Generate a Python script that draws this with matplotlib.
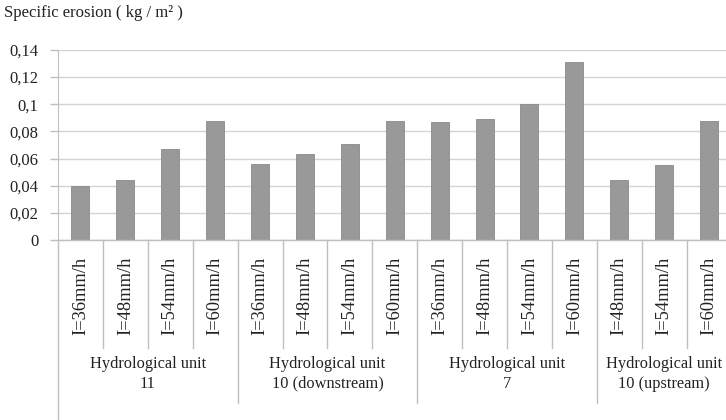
import numpy as np
import matplotlib.pyplot as plt

plt.rcParams['font.family'] = ['Liberation Serif', 'DejaVu Serif']

labels = ["I=36mm/h", "I=48mm/h", "I=54mm/h", "I=60mm/h",
          "I=36mm/h", "I=48mm/h", "I=54mm/h", "I=60mm/h",
          "I=36mm/h", "I=48mm/h", "I=54mm/h", "I=60mm/h",
          "I=48mm/h", "I=54mm/h", "I=60mm/h"]
values = [0.040, 0.044, 0.067, 0.088,
          0.056, 0.063, 0.071, 0.088,
          0.087, 0.089, 0.100, 0.131,
          0.044, 0.055, 0.088]
groups = ["Hydrological unit\n11", "Hydrological unit\n10 (downstream)",
          "Hydrological unit\n7", "Hydrological unit\n10 (upstream)"]
group_sizes = [4, 4, 4, 3]
yticks = [0, 0.02, 0.04, 0.06, 0.08, 0.1, 0.12, 0.14]
ytick_labels = ["0", "0,02", "0,04", "0,06", "0,08", "0,1", "0,12", "0,14"]

fig = plt.figure(figsize=(7.26, 4.2), dpi=100)
ax = fig.add_axes([0.0799, 0.4286, 0.9277, 0.4524])

x = np.arange(len(values))
ax.bar(x, values, width=0.4, color='#999999', edgecolor='#8a8a8a', linewidth=0.6, zorder=3)

ax.set_xlim(-0.5, len(values) - 0.5)
ax.set_ylim(0, 0.14)
ax.set_yticks(yticks)
ax.set_yticklabels(ytick_labels, fontsize=12, color='#222222')
ax.yaxis.grid(True, color='#d4d4d4', linewidth=1.0, zorder=0)
ax.set_axisbelow(True)
ax.tick_params(axis='y', length=6, color='#bfbfbf', width=1, pad=8)
ax.set_xticks([])

for s in ['top', 'right', 'bottom']:
    ax.spines[s].set_visible(False)
ax.spines['left'].set_color('#bfbfbf')

tr = ax.get_xaxis_transform()
# axis baseline
ax.plot([-0.5, len(values) - 0.5], [0, 0], color='#bfbfbf', lw=1, transform=tr, clip_on=False, zorder=4)
# y axis extended to bottom
ax.plot([-0.5, -0.5], [0, -0.95], color='#bfbfbf', lw=1, transform=tr, clip_on=False)

# category labels and separators
for i, lab in enumerate(labels):
    ax.text(i, -0.09, lab, rotation=90, ha='center', va='top', fontsize=13.3,
            color='#222222', transform=tr)

bounds = np.cumsum(group_sizes)
for b in range(1, len(values)):
    bottom = -0.858 if b in bounds else -0.568
    ax.plot([b - 0.5, b - 0.5], [0, bottom], color='#bfbfbf', lw=1, transform=tr, clip_on=False)

start = 0
for g, n in zip(groups, group_sizes):
    ax.text(start + (n - 1) / 2, -0.705, g, ha='center', va='center', fontsize=11.8,
            color='#222222', transform=tr, linespacing=1.3)
    start += n

fig.text(4 / 726, 1 - 13 / 420, "Specific erosion ( kg / m² )", fontsize=12,
         color='#222222', ha='left', va='center')

fig.savefig("out.png", dpi=100)
